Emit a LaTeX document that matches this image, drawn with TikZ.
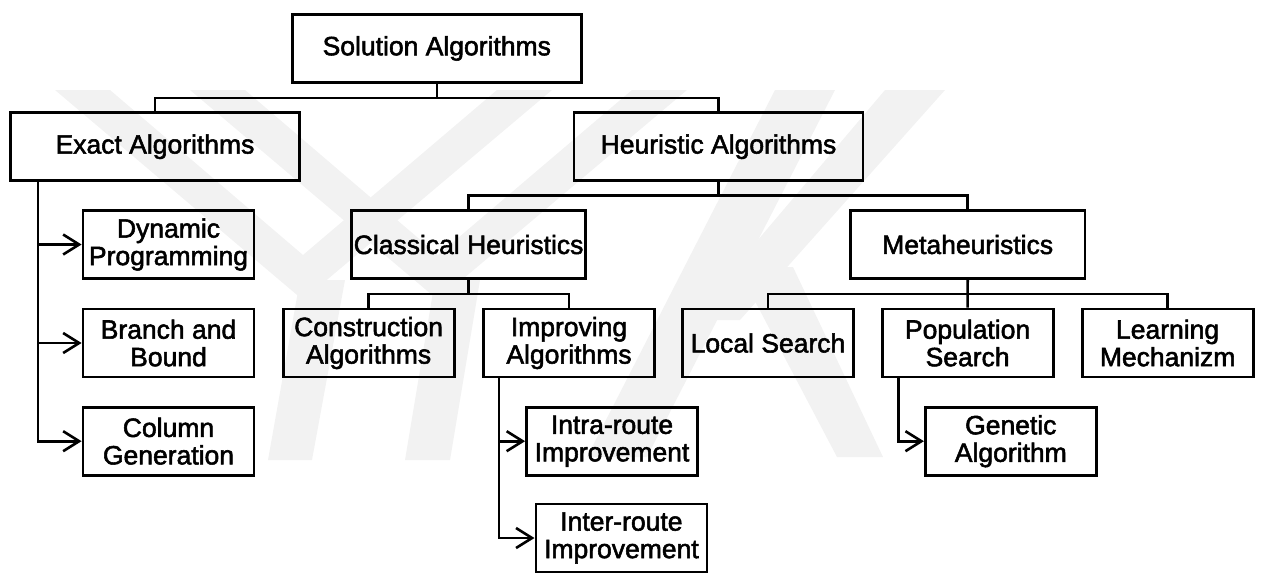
\documentclass[tikz,border=0pt]{standalone}
\usepackage{fontspec}
\setmainfont{Liberation Sans}
\newfontfamily\boxfont{Liberation Sans}[FakeBold=2]
\usetikzlibrary{arrows.meta}
\begin{document}
\begin{tikzpicture}[x=1pt,y=-1pt,
  box/.style={draw,line width=2.8pt,inner sep=0pt,align=center,
    font=\boxfont\fontsize{26.5}{27.5}\selectfont},
  bigbox/.style={box,minimum width=289pt,minimum height=68pt},
  midbox/.style={box,minimum width=234.5pt,minimum height=68pt},
  smallbox/.style={box,minimum width=171pt,minimum height=68pt},
  link/.style={line width=2.6pt},
  arr/.style={link,-{Straight Barb[length=16pt,width=20pt]}},
  wm/.style={fill=black!5,draw=none}]

\useasboundingbox (0,0) rectangle (1262,574);

% faint background logo
\fill[wm] (55,90) -- (110,90) -- (303,255) -- (497,90) -- (552,90) -- (303,300) -- cycle;
\fill[wm] (300,280) -- (345,280) -- (312,460) -- (268,460) -- cycle;
\fill[wm] (190,90) -- (245,90) -- (438,255) -- (632,90) -- (687,90) -- (438,300) -- cycle;
\fill[wm] (435,280) -- (480,280) -- (450,460) -- (405,460) -- cycle;
\fill[wm] (587,457) -- (647,457) -- (835,90) -- (775,90) -- cycle;
\fill[wm] (690,320) -- (740,320) -- (945,90) -- (885,90) -- cycle;
\fill[wm] (737,267) -- (793,267) -- (883,457) -- (837,457) -- cycle;

% boxes
\node[bigbox] (sol)   at (436.8,48.4)  {Solution Algorithms};
\node[bigbox] (exact) at (155,146.7)   {Exact Algorithms};
\node[bigbox] (heur)  at (718.5,146.7) {Heuristic Algorithms};
\node[midbox] (class) at (468.6,244.5) {Classical Heuristics};
\node[midbox] (meta)  at (967.7,244.5) {Metaheuristics};
\node[smallbox] (dp)    at (168.5,244.5) {Dynamic\\Programming};
\node[smallbox] (bb)    at (168.5,343)   {Branch and\\Bound};
\node[smallbox] (cg)    at (168.5,441.2) {Column\\Generation};
\node[smallbox] (cons)  at (368.6,343)   {Construction\\Algorithms};
\node[smallbox] (impr)  at (569,343)     {Improving\\Algorithms};
\node[smallbox] (local) at (768,343)     {Local Search};
\node[smallbox] (pop)   at (967.6,343)   {Population\\Search};
\node[smallbox] (learn) at (1167.6,343)  {Learning\\Mechanizm};
\node[smallbox] (intra) at (612,441.2)   {Intra-route\\Improvement};
\node[smallbox] (inter) at (621.4,538)   {Inter-route\\Improvement};
\node[smallbox] (gen)   at (1010.8,441.2) {Genetic\\Algorithm};

% tree connectors
\draw[link] (sol.south) -- ++(0,13.5);
\draw[link] (exact.north) -- ++(0,-13.5) -| (heur.north);
\draw[link] (heur.south) -- ++(0,13.5);
\draw[link] (class.north) -- ++(0,-13.5) -| (meta.north);
\draw[link] (class.south) -- ++(0,13.5);
\draw[link] (cons.north) -- ++(0,-13.5) -| (impr.north);
\draw[link] (meta.south) -- (pop.north);
\draw[link] (local.north) -- ++(0,-13.5) -| (learn.north);

% side arrows
\coordinate (ex) at ([xshift=29pt]exact.south west);
\draw[arr] (ex) |- (cg.west);
\draw[arr] (ex |- dp.west) -- (dp.west);
\draw[arr] (ex |- bb.west) -- (bb.west);

\coordinate (im) at ([xshift=17pt]impr.south west);
\draw[arr] (im) |- (inter.west);
\draw[arr] (im |- intra.west) -- (intra.west);

\coordinate (po) at ([xshift=18pt]pop.south west);
\draw[arr] (po) |- (gen.west);
\end{tikzpicture}
\end{document}
